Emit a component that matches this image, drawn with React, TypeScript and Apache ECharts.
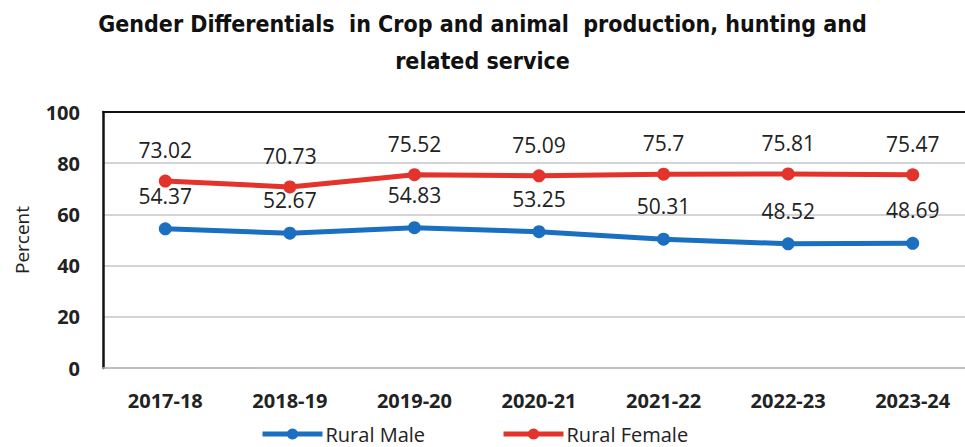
import React, { useEffect, useRef } from "react";
import * as echarts from "echarts";

const categories = ["2017-18", "2018-19", "2019-20", "2020-21", "2021-22", "2022-23", "2023-24"];
const ruralMale = [54.37, 52.67, 54.83, 53.25, 50.31, 48.52, 48.69];
const ruralFemale = [73.02, 70.73, 75.52, 75.09, 75.7, 75.81, 75.47];
const titleText = "Gender Differentials  in Crop and animal  production, hunting and\nrelated service";

export default function App() {
  const ref = useRef<HTMLDivElement>(null);
  useEffect(() => {
    const chart = echarts.init(ref.current!, null, { renderer: "svg" });
    const labelStyle = {
      show: true,
      position: "top" as const,
      distance: 14,
      fontSize: 21,
      color: "#222",
      fontFamily: "'Open Sans', sans-serif",
    };
    chart.setOption({
      animation: false,
      backgroundColor: "#fff",
      title: {
        text: titleText,
        left: "center",
        top: 0,
        textStyle: {
          fontFamily: "'Liberation Sans Narrow', 'DejaVu Sans Condensed', sans-serif",
          fontWeight: "bold",
          fontSize: 23,
          lineHeight: 37,
          color: "#111",
        },
      },
      legend: {
        top: 423,
        left: 260,
        padding: 0,
        itemGap: 76,
        itemWidth: 60,
        itemHeight: 14,
        lineStyle: { width: 5 },
        textStyle: { fontSize: 20, lineHeight: 22, color: "#222", fontFamily: "'Open Sans', sans-serif", padding: [0, 0, 0, -2] },
        data: ["Rural Male", "Rural Female"],
      },
      grid: { left: 103, top: 112, width: 872, height: 256, outerBoundsMode: "none", containLabel: false },
      xAxis: [
        {
          type: "category",
          data: categories,
          boundaryGap: true,
          axisLine: { lineStyle: { color: "#b8b8c0", width: 1.5 } },
          axisTick: { show: false },
          axisLabel: {
            fontSize: 20,
            fontWeight: "bold",
            color: "#222",
            margin: 22,
            fontFamily: "'Open Sans', sans-serif",
          },
        },
        {
          type: "category",
          position: "top",
          data: categories,
          axisLine: { lineStyle: { color: "#111", width: 2 } },
          axisTick: { show: false },
          axisLabel: { show: false },
        },
      ],
      yAxis: {
        type: "value",
        min: 0,
        max: 100,
        interval: 20,
        name: "Percent",
        nameLocation: "middle",
        nameGap: 72,
        nameTextStyle: { fontSize: 19, color: "#222", fontFamily: "'Open Sans', sans-serif" },
        axisLine: { show: true, lineStyle: { color: "#111", width: 2.5 } },
        axisTick: { show: false },
        axisLabel: {
          fontSize: 20,
          fontWeight: "bold",
          color: "#222",
          margin: 23,
          fontFamily: "'Open Sans', sans-serif",
        },
        splitLine: { lineStyle: { color: "#c4c4cc", width: 1.5 } },
      },
      series: [
        {
          name: "Rural Male",
          type: "line",
          data: ruralMale,
          symbol: "circle",
          symbolSize: 13,
          lineStyle: { width: 5, color: "#1a6fc0" },
          itemStyle: { color: "#1a6fc0" },
          label: { ...labelStyle, distance: 16 },
        },
        {
          name: "Rural Female",
          type: "line",
          data: ruralFemale,
          symbol: "circle",
          symbolSize: 13,
          lineStyle: { width: 5, color: "#e3332a" },
          itemStyle: { color: "#e3332a" },
          label: labelStyle,
        },
      ],
    });
    return () => chart.dispose();
  }, []);
  return (
    <div
      ref={ref}
      style={{ position: "fixed", left: 0, top: 0, width: 965, height: 447, overflow: "hidden" }}
    />
  );
}
